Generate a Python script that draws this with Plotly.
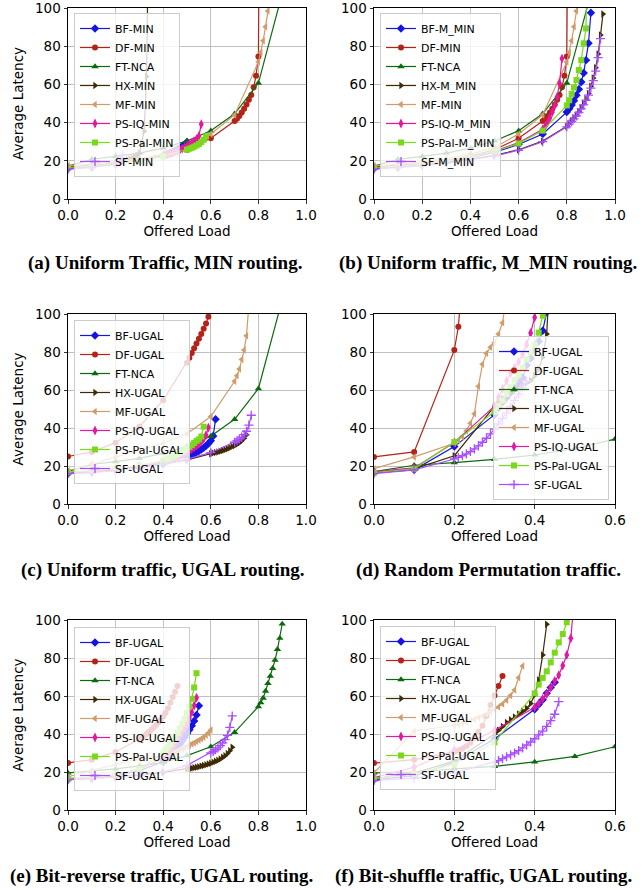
import plotly.graph_objects as go

# ---------------- data (offered load, average latency) ----------------
# (a) Uniform traffic, MIN routing
A_BF_X = [0.0, 0.1, 0.2, 0.3, 0.4, 0.41, 0.42, 0.43, 0.44, 0.45, 0.46, 0.47, 0.48, 0.49, 0.5]
A_BF_Y = [16.0, 16.8, 18.3, 20.3, 22.8, 23.2, 23.7, 24.2, 24.8, 25.4, 26.0, 26.8, 27.6, 28.6, 29.8]
A_DF_X = [0.0, 0.1, 0.2, 0.3, 0.4, 0.5, 0.6, 0.7, 0.71, 0.72, 0.73, 0.74, 0.75, 0.76, 0.77, 0.78, 0.79, 0.8, 0.81]
A_DF_Y = [16.8, 17.5, 18.5, 20.3, 22.5, 25.8, 31.8, 40.8, 42.0, 43.5, 45.3, 47.3, 49.5, 52.0, 54.5, 58.5, 64.5, 74.6, 250.0]
A_FT_X = [0.0, 0.1, 0.2, 0.3, 0.4, 0.5, 0.6, 0.7, 0.8, 0.9]
A_FT_Y = [17.2, 20.8, 22.3, 24.0, 26.6, 30.4, 35.7, 44.6, 60.7, 107.5]
A_HX_X = [0.0, 0.1, 0.2, 0.21, 0.22, 0.23, 0.24, 0.25, 0.26, 0.27, 0.28, 0.29, 0.3, 0.31, 0.32, 0.33, 0.34]
A_HX_Y = [16.3, 17.2, 18.8, 19.1, 19.4, 19.7, 20.1, 20.5, 21.0, 21.5, 22.1, 22.9, 24.0, 29.0, 35.5, 64.2, 155.0]
A_MF_X = [0.0, 0.1, 0.2, 0.3, 0.4, 0.5, 0.6, 0.7, 0.8, 0.81, 0.82, 0.83, 0.84, 0.85]
A_MF_Y = [17.5, 18.2, 19.4, 21.0, 23.5, 27.0, 34.0, 44.0, 71.7, 76.7, 82.9, 90.2, 98.4, 115.0]
A_PSIQ_X = [0.0, 0.1, 0.2, 0.3, 0.4, 0.41, 0.42, 0.43, 0.44, 0.45, 0.46, 0.47, 0.48, 0.49, 0.5,
            0.51, 0.52, 0.53, 0.54, 0.55, 0.56]
A_PSIQ_Y = [16.2, 17.0, 18.4, 20.3, 22.6, 23.0, 23.4, 23.8, 24.2, 24.7, 25.2, 25.8, 26.4, 27.1, 27.8,
            28.6, 29.4, 30.3, 31.4, 33.0, 39.2]
A_PSPAL_X = [0.0, 0.1, 0.2, 0.3, 0.4, 0.5, 0.51, 0.52, 0.53, 0.54, 0.55, 0.56, 0.57, 0.58]
A_PSPAL_Y = [16.5, 17.2, 18.5, 20.0, 22.3, 25.8, 26.3, 26.8, 27.4, 28.0, 28.8, 29.8, 31.0, 32.8]
A_SF_X = [0.0, 0.1, 0.2, 0.21, 0.22, 0.23]
A_SF_Y = [15.6, 16.5, 18.2, 19.3, 21.0, 23.0]

# (b) Uniform traffic, M_MIN routing (DF-MIN, FT-NCA, MF-MIN same as in (a))
B_BF_X = [0.0, 0.1, 0.2, 0.3, 0.4, 0.5, 0.6, 0.7, 0.8, 0.81, 0.82, 0.83, 0.84, 0.85, 0.86, 0.87, 0.88, 0.89, 0.9]
B_BF_Y = [16.0, 16.8, 18.0, 19.7, 21.5, 24.5, 28.5, 34.0, 45.5, 47.2, 49.2, 51.5, 54.3, 57.5, 61.3, 66.0, 72.7, 81.5, 97.5]
B_HX_X = [0.0, 0.1, 0.2, 0.3, 0.4, 0.5, 0.6, 0.7, 0.8, 0.81, 0.82, 0.83, 0.84, 0.85, 0.86, 0.87, 0.88,
          0.89, 0.9, 0.91, 0.92, 0.93, 0.94, 0.95]
B_HX_Y = [16.5, 17.0, 17.8, 19.0, 20.7, 22.8, 25.8, 30.3, 38.1, 39.5, 41.0, 42.5, 44.0, 45.8, 47.8, 50.0, 52.4,
          55.2, 59.0, 63.3, 68.7, 75.9, 85.8, 96.9]
B_PSIQ_X = [0.0, 0.1, 0.2, 0.3, 0.4, 0.5, 0.6, 0.7, 0.71, 0.72, 0.73, 0.74, 0.75, 0.76, 0.77, 0.78]
B_PSIQ_Y = [16.2, 17.0, 18.3, 20.0, 22.0, 25.0, 29.5, 36.5, 38.0, 40.0, 42.5, 45.5, 49.0, 53.5, 60.5, 73.5]
B_PSPAL_X = [0.0, 0.1, 0.2, 0.3, 0.4, 0.5, 0.6, 0.7, 0.8, 0.81, 0.82, 0.83, 0.84, 0.85, 0.86, 0.87, 0.88, 0.89]
B_PSPAL_Y = [16.5, 17.2, 18.3, 19.8, 21.8, 25.0, 29.0, 35.8, 49.0, 51.7, 55.0, 58.4, 62.3, 67.5, 72.7, 81.5, 89.3, 250.0]
B_SF_X = [0.0, 0.1, 0.2, 0.3, 0.4, 0.5, 0.6, 0.7, 0.8, 0.81, 0.82, 0.83, 0.84, 0.85, 0.86, 0.87, 0.88,
          0.89, 0.9, 0.91, 0.92, 0.93, 0.94]
B_SF_Y = [15.6, 16.5, 17.5, 18.8, 20.5, 22.5, 25.5, 30.0, 37.8, 39.2, 40.6, 42.0, 43.5, 45.3, 47.2, 49.3, 51.7,
          54.4, 58.0, 62.0, 67.0, 74.0, 84.0]

# (c) Uniform traffic, UGAL routing (FT-NCA same as in (a))
C_BF_X = [0.0, 0.1, 0.2, 0.3, 0.4, 0.5, 0.51, 0.52, 0.53, 0.54, 0.55, 0.56, 0.57, 0.58, 0.59, 0.6, 0.61, 0.62]
C_BF_Y = [16.0, 16.8, 18.0, 19.5, 21.5, 25.0, 25.5, 26.0, 26.6, 27.2, 27.9, 28.7, 29.6, 30.6, 31.8, 33.3, 35.8, 44.6]
C_DF_X = [0.0, 0.1, 0.2, 0.3, 0.4, 0.5, 0.51, 0.52, 0.53, 0.54, 0.55, 0.56, 0.57, 0.58, 0.59]
C_DF_Y = [25.0, 27.4, 32.3, 40.7, 54.6, 74.4, 77.0, 79.5, 82.0, 84.5, 87.0, 89.5, 92.3, 95.0, 98.6]
C_HX_X = [0.0, 0.1, 0.2, 0.3, 0.4, 0.5, 0.6, 0.61, 0.62, 0.63, 0.64, 0.65, 0.66, 0.67, 0.68, 0.69, 0.7,
          0.71, 0.72, 0.73, 0.74, 0.75]
C_HX_Y = [16.5, 17.0, 18.0, 19.3, 21.0, 23.2, 26.5, 26.8, 27.1, 27.4, 27.8, 28.2, 28.6, 29.1, 29.6, 30.2, 30.8,
          31.5, 32.3, 33.3, 34.6, 36.5]
C_MF_X = [0.0, 0.1, 0.2, 0.3, 0.4, 0.5, 0.6, 0.7, 0.71, 0.72, 0.73, 0.74, 0.75, 0.76]
C_MF_Y = [17.5, 21.0, 24.7, 28.4, 31.9, 37.0, 46.0, 64.6, 67.5, 71.0, 76.0, 81.0, 88.6, 105.0]
C_PSIQ_X = [0.0, 0.1, 0.2, 0.3, 0.4, 0.41, 0.42, 0.43, 0.44, 0.45, 0.46, 0.47, 0.48, 0.49, 0.5,
            0.51, 0.52, 0.53, 0.54, 0.55, 0.56, 0.57, 0.58, 0.59]
C_PSIQ_Y = [16.5, 17.2, 18.4, 20.0, 22.2, 22.6, 23.0, 23.4, 23.9, 24.4, 24.9, 25.5, 26.1, 26.7, 27.4,
            28.1, 28.9, 29.7, 30.6, 31.6, 32.8, 34.3, 36.3, 40.2]
C_PSPAL_X = [0.0, 0.1, 0.2, 0.3, 0.4, 0.41, 0.42, 0.43, 0.44, 0.45, 0.46, 0.47, 0.48, 0.49, 0.5,
             0.51, 0.52, 0.53, 0.54, 0.55, 0.56, 0.57]
C_PSPAL_Y = [16.8, 17.5, 18.8, 20.4, 22.8, 23.3, 23.8, 24.3, 24.9, 25.5, 26.1, 26.8, 27.5, 28.3, 29.1,
             30.0, 31.0, 32.1, 33.2, 34.0, 35.5, 40.7]
C_SF_X = [0.0, 0.1, 0.2, 0.3, 0.4, 0.5, 0.6, 0.7, 0.71, 0.72, 0.73, 0.74, 0.75, 0.76, 0.77]
C_SF_Y = [16.0, 16.5, 17.5, 19.0, 21.0, 23.6, 27.0, 32.5, 33.3, 34.2, 35.2, 36.5, 38.3, 41.5, 46.7]

# (d) Random permutation traffic
D_BF_X = [0.0, 0.1, 0.2, 0.3, 0.31, 0.32, 0.33, 0.34, 0.35, 0.36, 0.37, 0.38, 0.39, 0.4, 0.41, 0.42, 0.43, 0.44]
D_BF_Y = [16.5, 18.0, 30.2, 47.0, 50.5, 53.5, 56.0, 58.5, 61.0, 64.0, 66.5, 73.0, 76.7, 80.7, 85.5, 91.2, 101.0, 130.0]
D_DF_X = [0.0, 0.1, 0.2, 0.21, 0.22]
D_DF_Y = [24.8, 27.4, 81.0, 93.3, 120.0]
D_FT_X = [0.0, 0.1, 0.2, 0.3, 0.4, 0.5, 0.6]
D_FT_Y = [17.0, 20.4, 21.8, 23.5, 25.8, 29.2, 34.2]
D_HX_X = [0.0, 0.1, 0.2, 0.3, 0.31, 0.32, 0.33, 0.34, 0.35, 0.36, 0.37, 0.38, 0.39, 0.4, 0.41, 0.42, 0.43, 0.44]
D_HX_Y = [16.5, 18.5, 25.4, 51.5, 54.0, 55.5, 57.0, 58.5, 60.0, 61.5, 62.7, 63.8, 65.0, 67.5, 71.0, 77.3, 89.5, 130.0]
D_MF_X = [0.0, 0.1, 0.2, 0.21, 0.22, 0.23, 0.24, 0.25, 0.26, 0.27, 0.28, 0.29, 0.3, 0.31, 0.32, 0.33]
D_MF_Y = [18.6, 24.8, 32.0, 33.5, 35.5, 38.5, 42.5, 47.5, 62.0, 73.5, 79.3, 82.5, 84.9, 89.5, 95.4, 110.0]
D_PSIQ_X = [0.0, 0.1, 0.2, 0.3, 0.31, 0.32, 0.33, 0.34, 0.35, 0.36, 0.37, 0.38, 0.39, 0.4, 0.41]
D_PSIQ_Y = [17.0, 19.0, 32.3, 51.5, 56.0, 60.7, 64.9, 68.8, 71.8, 74.8, 78.8, 84.0, 90.0, 98.2, 115.0]
D_PSPAL_X = [0.0, 0.1, 0.2, 0.3, 0.31, 0.32, 0.33, 0.34, 0.35, 0.36, 0.37, 0.38, 0.39, 0.4, 0.41, 0.42, 0.43]
D_PSPAL_Y = [16.5, 18.5, 32.6, 48.6, 51.5, 54.5, 57.9, 61.5, 65.3, 68.0, 71.8, 76.1, 79.8, 83.7, 90.2, 99.1, 120.0]
D_SF_X = [0.0, 0.1, 0.2, 0.21, 0.22, 0.23, 0.24, 0.25, 0.26, 0.27, 0.28, 0.29, 0.3, 0.31, 0.32, 0.33,
          0.34, 0.35, 0.36, 0.37, 0.38]
D_SF_Y = [16.0, 18.0, 23.7, 24.5, 25.4, 26.4, 27.6, 29.0, 30.6, 32.5, 34.6, 36.9, 39.4, 42.1, 45.0, 48.0,
          51.2, 54.5, 57.8, 61.2, 64.6]

# (e) Bit-reverse traffic, UGAL routing
E_BF_X = [0.0, 0.1, 0.2, 0.3, 0.4, 0.41, 0.42, 0.43, 0.44, 0.45, 0.46, 0.47, 0.48, 0.49, 0.5,
          0.51, 0.52, 0.53, 0.54, 0.55]
E_BF_Y = [16.0, 16.8, 18.0, 20.7, 25.4, 26.5, 27.7, 29.0, 30.3, 31.7, 33.2, 34.8, 36.5, 38.3, 40.2,
          42.2, 44.3, 46.8, 50.0, 54.9]
E_DF_X = [0.0, 0.1, 0.2, 0.3, 0.31, 0.32, 0.33, 0.34, 0.35, 0.36, 0.37, 0.38, 0.39, 0.4, 0.41, 0.42,
          0.43, 0.44, 0.45, 0.46]
E_DF_Y = [24.8, 26.5, 30.5, 37.0, 38.0, 39.0, 40.0, 41.0, 42.2, 43.4, 44.7, 46.0, 47.5, 49.2, 51.0, 53.5,
          56.5, 59.5, 62.2, 65.2]
E_FT_X = [0.0, 0.1, 0.2, 0.3, 0.4, 0.5, 0.6, 0.7, 0.8, 0.81, 0.82, 0.83, 0.84, 0.85, 0.86, 0.87, 0.88, 0.89, 0.9]
E_FT_Y = [19.5, 20.4, 21.6, 23.2, 25.1, 28.6, 33.3, 40.9, 54.4, 56.5, 58.9, 62.6, 66.7, 70.5, 74.6, 78.9, 84.6, 90.4, 97.9]
E_HX_X = [0.0, 0.1, 0.2, 0.3, 0.4, 0.5, 0.51, 0.52, 0.53, 0.54, 0.55, 0.56, 0.57, 0.58, 0.59, 0.6,
          0.61, 0.62, 0.63, 0.64, 0.65, 0.66, 0.67, 0.68, 0.69]
E_HX_Y = [16.0, 16.7, 17.3, 18.2, 19.8, 21.6, 21.8, 22.0, 22.2, 22.5, 22.8, 23.1, 23.4, 23.8, 24.2, 24.6,
          25.1, 25.6, 26.2, 26.9, 27.7, 28.6, 29.8, 31.2, 33.0]
E_MF_X = [0.0, 0.1, 0.2, 0.3, 0.4, 0.41, 0.42, 0.43, 0.44, 0.45, 0.46, 0.47, 0.48, 0.49, 0.5,
          0.51, 0.52, 0.53, 0.54, 0.55, 0.56, 0.57, 0.58, 0.59, 0.6]
E_MF_Y = [17.5, 20.7, 24.0, 26.7, 28.4, 28.7, 29.1, 29.5, 30.0, 30.5, 31.0, 31.6, 32.2, 32.8, 33.5,
          34.1, 34.7, 35.3, 36.0, 36.7, 37.5, 38.3, 39.3, 40.5, 42.1]
E_PSIQ_X = [0.0, 0.1, 0.2, 0.3, 0.4, 0.41, 0.42, 0.43, 0.44, 0.45, 0.46, 0.47, 0.48, 0.49, 0.5,
            0.51, 0.52, 0.53, 0.54]
E_PSIQ_Y = [16.5, 17.2, 18.5, 21.5, 27.5, 28.8, 30.2, 31.7, 33.3, 35.0, 36.8, 38.8, 41.0, 43.3, 45.8,
            48.5, 51.5, 55.0, 59.1]
E_PSPAL_X = [0.0, 0.1, 0.2, 0.3, 0.4, 0.41, 0.42, 0.43, 0.44, 0.45, 0.46, 0.47, 0.48, 0.49, 0.5,
             0.51, 0.52, 0.53, 0.54]
E_PSPAL_Y = [16.5, 17.2, 18.5, 21.5, 30.0, 31.5, 33.0, 34.7, 36.5, 38.5, 40.5, 43.0, 45.5, 48.0, 51.0,
             54.5, 58.5, 64.5, 72.0]
E_SF_X = [0.0, 0.1, 0.2, 0.3, 0.4, 0.5, 0.6, 0.61, 0.62, 0.63, 0.64, 0.65, 0.66, 0.67, 0.68, 0.69]
E_SF_Y = [16.0, 16.5, 17.3, 18.5, 20.0, 23.5, 30.0, 30.8, 31.7, 32.7, 33.9, 35.3, 37.0, 39.3, 43.5, 49.5]

# (f) Bit-shuffle traffic, UGAL routing
F_BF_X = [0.0, 0.1, 0.2, 0.3, 0.4, 0.41, 0.42, 0.43, 0.44, 0.45]
F_BF_Y = [16.0, 18.0, 25.1, 37.4, 53.0, 55.5, 58.0, 61.5, 64.5, 67.2]
F_DF_X = [0.0, 0.1, 0.2, 0.21, 0.22, 0.23, 0.24, 0.25, 0.26, 0.27, 0.28, 0.29, 0.3, 0.31, 0.32]
F_DF_Y = [24.7, 26.5, 30.5, 31.2, 32.3, 33.5, 35.4, 38.0, 41.2, 44.4, 49.5, 55.3, 60.2, 65.3, 70.5]
F_FT_X = [0.0, 0.1, 0.2, 0.3, 0.4, 0.5, 0.6]
F_FT_Y = [19.5, 20.0, 21.6, 23.0, 25.3, 28.2, 33.3]
F_HX_X = [0.0, 0.1, 0.2, 0.3, 0.31, 0.32, 0.33, 0.34, 0.35, 0.36, 0.37, 0.38, 0.39, 0.4, 0.41, 0.42, 0.43]
F_HX_Y = [16.5, 19.5, 25.8, 40.0, 42.0, 44.0, 46.0, 47.5, 49.0, 50.5, 52.0, 53.5, 56.0, 60.5, 68.4, 81.6, 97.7]
F_MF_X = [0.0, 0.1, 0.2, 0.21, 0.22, 0.23, 0.24, 0.25, 0.26, 0.27, 0.28, 0.29, 0.3, 0.31, 0.32, 0.33,
          0.34, 0.35, 0.36, 0.37]
F_MF_Y = [19.5, 41.5, 44.6, 45.0, 45.6, 46.3, 47.0, 47.8, 48.6, 49.5, 50.5, 51.6, 52.8, 54.2, 55.8, 57.7,
          60.2, 63.2, 69.6, 75.8]
F_PSIQ_X = [0.0, 0.1, 0.2, 0.3, 0.4, 0.41, 0.42, 0.43, 0.44, 0.45, 0.46, 0.47, 0.48, 0.49, 0.5]
F_PSIQ_Y = [17.0, 22.5, 31.6, 41.9, 54.0, 56.0, 58.5, 61.0, 64.5, 68.0, 71.0, 76.0, 81.6, 90.4, 115.0]
F_PSPAL_X = [0.0, 0.1, 0.2, 0.3, 0.4, 0.41, 0.42, 0.43, 0.44, 0.45, 0.46, 0.47, 0.48]
F_PSPAL_Y = [16.5, 19.0, 24.0, 35.6, 61.4, 66.0, 69.5, 73.0, 77.7, 82.8, 88.2, 92.6, 98.8]
F_SF_X = [0.0, 0.1, 0.2, 0.3, 0.31, 0.32, 0.33, 0.34, 0.35, 0.36, 0.37, 0.38, 0.39, 0.4, 0.41, 0.42,
          0.43, 0.44, 0.45, 0.46]
F_SF_Y = [15.5, 16.8, 19.6, 25.1, 26.0, 27.0, 28.0, 29.0, 30.0, 31.3, 32.7, 34.2, 35.8, 37.5, 39.5, 41.5,
          44.0, 47.0, 50.4, 57.0]

# labels
A_NAMES = ["BF-MIN", "DF-MIN", "FT-NCA", "HX-MIN", "MF-MIN", "PS-IQ-MIN", "PS-Pal-MIN", "SF-MIN"]
B_NAMES = ["BF-M_MIN", "DF-MIN", "FT-NCA", "HX-M_MIN", "MF-MIN", "PS-IQ-M_MIN", "PS-Pal-M_MIN", "SF-M_MIN"]
UGAL_NAMES = ["BF-UGAL", "DF-UGAL", "FT-NCA", "HX-UGAL", "MF-UGAL", "PS-IQ-UGAL", "PS-Pal-UGAL", "SF-UGAL"]
CAPTIONS = ["(a) Uniform Traffic, MIN routing.", "(b) Uniform traffic, M_MIN routing.",
            "(c) Uniform traffic, UGAL routing.", "(d) Random Permutation traffic.",
            "(e) Bit-reverse traffic, UGAL routing.", "(f) Bit-shuffle traffic, UGAL routing."]
X_TICKS_FULL = [0.0, 0.2, 0.4, 0.6, 0.8, 1.0]
X_TICKS_SHORT = [0.0, 0.2, 0.4, 0.6]
Y_TICKS = [0, 20, 40, 60, 80, 100]

PANELS = [
    dict(names=A_NAMES, series=[(A_BF_X, A_BF_Y), (A_DF_X, A_DF_Y), (A_FT_X, A_FT_Y), (A_HX_X, A_HX_Y),
                                (A_MF_X, A_MF_Y), (A_PSIQ_X, A_PSIQ_Y), (A_PSPAL_X, A_PSPAL_Y), (A_SF_X, A_SF_Y)],
         xmax=1.0, xticks=X_TICKS_FULL),
    dict(names=B_NAMES, series=[(B_BF_X, B_BF_Y), (A_DF_X, A_DF_Y), (A_FT_X, A_FT_Y), (B_HX_X, B_HX_Y),
                                (A_MF_X, A_MF_Y), (B_PSIQ_X, B_PSIQ_Y), (B_PSPAL_X, B_PSPAL_Y), (B_SF_X, B_SF_Y)],
         xmax=1.0, xticks=X_TICKS_FULL),
    dict(names=UGAL_NAMES, series=[(C_BF_X, C_BF_Y), (C_DF_X, C_DF_Y), (A_FT_X, A_FT_Y), (C_HX_X, C_HX_Y),
                                   (C_MF_X, C_MF_Y), (C_PSIQ_X, C_PSIQ_Y), (C_PSPAL_X, C_PSPAL_Y), (C_SF_X, C_SF_Y)],
         xmax=1.0, xticks=X_TICKS_FULL),
    dict(names=UGAL_NAMES, series=[(D_BF_X, D_BF_Y), (D_DF_X, D_DF_Y), (D_FT_X, D_FT_Y), (D_HX_X, D_HX_Y),
                                   (D_MF_X, D_MF_Y), (D_PSIQ_X, D_PSIQ_Y), (D_PSPAL_X, D_PSPAL_Y), (D_SF_X, D_SF_Y)],
         xmax=0.6, xticks=X_TICKS_SHORT),
    dict(names=UGAL_NAMES, series=[(E_BF_X, E_BF_Y), (E_DF_X, E_DF_Y), (E_FT_X, E_FT_Y), (E_HX_X, E_HX_Y),
                                   (E_MF_X, E_MF_Y), (E_PSIQ_X, E_PSIQ_Y), (E_PSPAL_X, E_PSPAL_Y), (E_SF_X, E_SF_Y)],
         xmax=1.0, xticks=X_TICKS_FULL),
    dict(names=UGAL_NAMES, series=[(F_BF_X, F_BF_Y), (F_DF_X, F_DF_Y), (F_FT_X, F_FT_Y), (F_HX_X, F_HX_Y),
                                   (F_MF_X, F_MF_Y), (F_PSIQ_X, F_PSIQ_Y), (F_PSPAL_X, F_PSPAL_Y), (F_SF_X, F_SF_Y)],
         xmax=0.6, xticks=X_TICKS_SHORT),
]

# ---------------- styling ----------------
W, H = 644, 890
STYLES = [
    dict(color="#1414e6", symbol="diamond", size=6.5),
    dict(color="#b52318", symbol="circle", size=6),
    dict(color="#0b6b0b", symbol="triangle-up", size=6.5),
    dict(color="#3e2a03", symbol="triangle-right", size=6.5),
    dict(color="#cf9c6b", symbol="triangle-left", size=6.5),
    dict(color="#e3189f", symbol="diamond-tall", size=7),
    dict(color="#79d91a", symbol="square", size=6),
    dict(color="#a84dff", symbol="cross-thin", size=6.5),
]
# plot areas in page pixels: (left, right, top, bottom)
AREAS = [(68, 306, 8, 199), (374, 615, 8, 199),
         (68, 306, 314, 504), (374, 615, 314, 504),
         (68, 306, 620, 810), (374, 615, 620, 810)]
# legend anchors in page pixels: (x, y, xanchor, yanchor)
LEGENDS = [(74, 13, "left", "top"), (380, 13, "left", "top"),
           (74, 320, "left", "top"), (609, 500, "right", "bottom"),
           (74, 627, "left", "top"), (380, 626, "left", "top")]
CAPTION_POS = [(165, 263), (488, 263), (163, 570), (488, 570), (162, 876), (483, 876)]


def px_x(v):
    return v / W


def px_y(v):
    return 1 - v / H


FONT = "DejaVu Sans"
fig = go.Figure()
layout = dict(width=W, height=H, margin=dict(l=0, r=0, t=0, b=0, autoexpand=False),
              paper_bgcolor="white", plot_bgcolor="white", showlegend=True,
              font=dict(family=FONT, color="black"))
annotations = []

for i, panel in enumerate(PANELS):
    n = i + 1
    sfx = "" if n == 1 else str(n)
    leg = "legend" if n == 1 else f"legend{n}"
    for (xs, ys), name, st in zip(panel["series"], panel["names"], STYLES):
        marker = dict(color=st["color"], symbol=st["symbol"], size=st["size"],
                      line=dict(color=st["color"], width=1.3 if "thin" in st["symbol"] else 0))
        fig.add_trace(go.Scatter(x=xs, y=ys, name=name, mode="lines+markers",
                                 line=dict(color=st["color"], width=1.2), marker=marker,
                                 xaxis="x" + sfx, yaxis="y" + sfx, legend=leg))
    l, r, t, b = AREAS[i]
    layout["xaxis" + sfx] = dict(
        domain=[px_x(l), px_x(r)], anchor="y" + sfx, range=[0, panel["xmax"]], automargin=False,
        tickvals=panel["xticks"], tickformat=".1f",
        showline=True, mirror=True, linecolor="black", linewidth=1,
        showgrid=True, gridcolor="#c0c0c0", gridwidth=1, zeroline=False,
        ticks="outside", ticklen=3.5, tickwidth=0.8, tickcolor="black",
        tickfont=dict(family=FONT, size=13.5, color="black"),
        title=dict(text="Offered Load", font=dict(family=FONT, size=13.5, color="black"), standoff=4))
    ycfg = dict(
        domain=[px_y(b), px_y(t)], anchor="x" + sfx, range=[0, 100], tickvals=Y_TICKS, automargin=False,
        ticklabeloverflow="allow",
        showline=True, mirror=True, linecolor="black", linewidth=1,
        showgrid=True, gridcolor="#c0c0c0", gridwidth=1, zeroline=False,
        ticks="outside", ticklen=3.5, tickwidth=0.8, tickcolor="black",
        tickfont=dict(family=FONT, size=13.5, color="black"))
    if i % 2 == 0:
        ycfg["title"] = dict(text="Average Latency", font=dict(family=FONT, size=13.5, color="black"), standoff=8)
    layout["yaxis" + sfx] = ycfg
    lx, ly, xa, ya = LEGENDS[i]
    layout[leg] = dict(x=px_x(lx), y=px_y(ly), xanchor=xa, yanchor=ya,
                       bgcolor="rgba(255,255,255,0.8)", bordercolor="#cccccc", borderwidth=1,
                       font=dict(family=FONT, size=11, color="black"), tracegroupgap=0,
                       itemwidth=30)
    cx, cy = CAPTION_POS[i]
    annotations.append(dict(text="<b>" + CAPTIONS[i] + "</b>", x=px_x(cx), y=px_y(cy),
                            xref="paper", yref="paper", showarrow=False, xanchor="center", yanchor="middle",
                            font=dict(family="Liberation Serif", size=19, color="black")))

layout["annotations"] = annotations
fig.update_layout(**layout)
# the page's default 8px body margin would push the 644x890 figure off the window
fig.write_html("out.html", config={"displayModeBar": False, "staticPlot": True},
               post_script="document.body.style.margin='0';")
